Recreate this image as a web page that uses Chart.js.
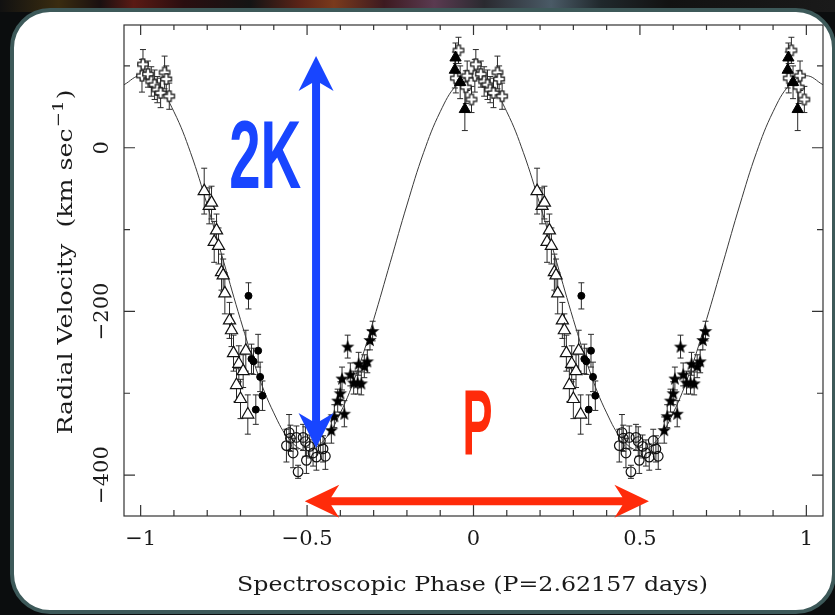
<!DOCTYPE html>
<html>
<head>
<meta charset="utf-8">
<title>Radial velocity curve</title>
<script src="https://cdn.jsdelivr.net/npm/chart.js@4.4.0/dist/chart.umd.min.js"></script>
<style>
html, body { margin: 0; padding: 0; }
body { width: 835px; height: 615px; background: #0b0d0e; position: relative; overflow: hidden; }
#strip { position: absolute; left: 0; top: 0; width: 835px; height: 12px;
  background: linear-gradient(90deg, #111 0%, #3a2c10 7%, #1a1010 12%, #5a1a14 16%, #2a0e10 22%, #141414 30%, #5c2418 36%, #7a3a1c 40%, #3d1a20 46%, #5a3a50 52%, #2a2a30 58%, #4a5a66 66%, #20282c 72%, #121212 80%, #1a1a1a 100%); }
#panel { position: absolute; left: 10px; top: 8px; width: 826px; height: 606px; box-sizing: border-box;
  border: 4px solid #3d5959; border-radius: 40px; background: #fff; }
#c { position: absolute; left: 0; top: 0; }
</style>
</head>
<body>
<div id="strip"></div>
<div id="panel"></div>
<canvas id="c" width="835" height="615"></canvas>
<script>
// observations, phase folded into [0,1) - each one is plotted at p-1 and p
var crossPhase = [0.004, 0.007, 0.022, 0.032, 0.042, 0.05, 0.06, 0.072, 0.077, 0.086, 0.947, 0.955, 0.977, 0.981, 0.994];
var crossVel   = [88, 102, 90, 81, 77, 71, 67, 92, 84, 63, 85, 119, 74, 88, 59];
var crossErr   = [20, 18, 16, 18, 18, 16, 18, 20, 16, 16, 18, 16, 20, 18, 16];

var ftriPhase = [0.944, 0.946, 0.96, 0.974];
var ftriVel   = [95, 110, 80, 47];
var ftriErr   = [22, 18, 20, 26];

var otriPhase = [0.191, 0.206, 0.213, 0.221, 0.228, 0.234, 0.243, 0.248, 0.253, 0.267, 0.273, 0.279, 0.288, 0.295, 0.300, 0.308, 0.316, 0.322];
var otriVel   = [-53, -71, -67, -115, -101, -120, -152, -156, -178, -211, -223, -251, -290, -264, -307, -273, -248, -326];
var otriErr   = [28, 22, 20, 25, 20, 22, 22, 20, 25, 22, 20, 22, 20, 22, 24, 20, 25, 24];

var fcircPhase = [0.324, 0.333, 0.339, 0.346, 0.353, 0.359, 0.366];
var fcircVel   = [-181, -258, -261, -320, -248, -280, -303];
var fcircErr   = [16, 18, 16, 18, 20, 18, 18];

var ocircPhase = [0.438, 0.446, 0.45, 0.458, 0.468, 0.473, 0.488, 0.495, 0.498, 0.508, 0.518, 0.528, 0.54, 0.548, 0.555];
var ocircVel   = [-364, -348, -355, -373, -354, -396, -354, -359, -382, -365, -373, -378, -358, -368, -377];
var ocircErr   = [20, 22, 16, 18, 14, 8, 16, 18, 16, 14, 16, 16, 14, 16, 16];

var starPhase = [0.573, 0.582, 0.592, 0.6, 0.605, 0.612, 0.622, 0.63, 0.64, 0.652, 0.655, 0.663, 0.672, 0.681, 0.689, 0.697];
var starVel   = [-345, -328, -309, -300, -282, -325, -243, -277, -287, -287, -264, -288, -267, -261, -235, -224];
var starErr   = [16, 14, 14, 14, 14, 16, 14, 14, 14, 14, 14, 14, 14, 14, 12, 12];

// orbit fit
var fitPhase = [-1.05, -1, -0.95, -0.9, -0.85, -0.8, -0.75, -0.7, -0.65, -0.6, -0.55, -0.5, -0.45, -0.4, -0.35, -0.3, -0.25, -0.2, -0.15, -0.1, -0.05,
                0, 0.05, 0.1, 0.15, 0.2, 0.25, 0.3, 0.35, 0.4, 0.45, 0.5, 0.55, 0.6, 0.65, 0.7, 0.75, 0.8, 0.85, 0.9, 0.95, 1, 1.05];
var fitVel   = [77, 88, 77, 44, -6, -70, -140, -210, -274, -324, -358, -370, -358, -324, -274, -210, -140, -70, -6, 44, 77,
                88, 77, 44, -6, -70, -140, -210, -274, -324, -358, -370, -358, -324, -274, -210, -140, -70, -6, 44, 77, 88, 77];

var xTickVals = [-1, -0.5, 0, 0.5, 1];
var xTickText = ['\u22121', '\u22120.5', '0', '0.5', '1'];
var yTickVals = [-400, -200, 0];
var yTickText = ['\u2212400', '\u2212200', '0'];
var xTitle = 'Spectroscopic Phase (P=2.62157 days)';
var yTitle = 'Radial Velocity  (km sec';
var yTitleSup = '\u22121';

// annotation marks (data coordinates)
var kArrow = { x: -0.473, top: 112, bottom: -367 };
var pArrow = { y: -432, from: -0.507, to: 0.527 };
var kLabel = { x: -0.626, y: -49, text: '2K' };
var pLabel = { x: 0.012, y: -375, text: 'P' };

function fold(ph, vel, err) {
    var out = [];
    for (var i = 0; i < ph.length; i++) {
        out.push({ x: ph[i] - 1, y: vel[i], e: err[i] });
        out.push({ x: ph[i], y: vel[i], e: err[i] });
    }
    return out;
}

function makeSymbol(size, fn) {
    var c = document.createElement('canvas');
    c.width = size; c.height = size;
    fn(c.getContext('2d'), size / 2);
    return c;
}

var plusImg = makeSymbol(14, function (g, m) {
    var a = 1.9, b = 5.2;
    g.beginPath();
    g.moveTo(m - a, m - b); g.lineTo(m + a, m - b); g.lineTo(m + a, m - a); g.lineTo(m + b, m - a);
    g.lineTo(m + b, m + a); g.lineTo(m + a, m + a); g.lineTo(m + a, m + b); g.lineTo(m - a, m + b);
    g.lineTo(m - a, m + a); g.lineTo(m - b, m + a); g.lineTo(m - b, m - a); g.lineTo(m - a, m - a);
    g.closePath();
    g.fillStyle = '#fff'; g.fill();
    g.lineWidth = 1.2; g.strokeStyle = '#111'; g.stroke();
});

var starImg = makeSymbol(16, function (g, m) {
    g.beginPath();
    for (var k = 0; k < 10; k++) {
        var r = k % 2 ? 2.9 : 7;
        var ang = -Math.PI / 2 + k * Math.PI / 5;
        g.lineTo(m + r * Math.cos(ang), m + 0.5 + r * Math.sin(ang));
    }
    g.closePath();
    g.fillStyle = '#000'; g.fill();
});

var errorBars = {
    id: 'errorBars',
    beforeDatasetsDraw: function (chart) {
        var ctx = chart.ctx, ys = chart.scales.y, a = chart.chartArea;
        ctx.save();
        ctx.beginPath();
        ctx.rect(a.left, a.top, a.right - a.left, a.bottom - a.top);
        ctx.clip();
        ctx.strokeStyle = '#2a2a2a';
        ctx.lineWidth = 1;
        chart.data.datasets.forEach(function (ds, i) {
            if (!ds.errorBars) return;
            var meta = chart.getDatasetMeta(i);
            meta.data.forEach(function (pt, j) {
                var d = ds.data[j];
                var t = ys.getPixelForValue(d.y + d.e), b = ys.getPixelForValue(d.y - d.e);
                ctx.beginPath();
                ctx.moveTo(pt.x, t); ctx.lineTo(pt.x, b);
                ctx.moveTo(pt.x - 3, t); ctx.lineTo(pt.x + 3, t);
                ctx.moveTo(pt.x - 3, b); ctx.lineTo(pt.x + 3, b);
                ctx.stroke();
            });
        });
        ctx.restore();
    }
};

function doubleArrow(ctx, x1, y1, x2, y2, color, hl, hh) {
    var dx = x2 - x1, dy = y2 - y1, len = Math.sqrt(dx * dx + dy * dy);
    var hw = 4, notch = 8;
    ctx.save();
    ctx.translate(x1, y1);
    ctx.rotate(Math.atan2(dy, dx));
    ctx.beginPath();
    ctx.moveTo(0, 0);
    ctx.lineTo(hl, -hh); ctx.lineTo(hl - notch, -hw);
    ctx.lineTo(len - hl + notch, -hw); ctx.lineTo(len - hl, -hh);
    ctx.lineTo(len, 0);
    ctx.lineTo(len - hl, hh); ctx.lineTo(len - hl + notch, hw);
    ctx.lineTo(hl - notch, hw); ctx.lineTo(hl, hh);
    ctx.closePath();
    ctx.fillStyle = color;
    ctx.fill();
    ctx.restore();
}

function bigLabel(ctx, text, cx, base, width, size, color) {
    ctx.save();
    ctx.font = 'bold ' + size + 'px "Liberation Sans Narrow", "Liberation Sans", "DejaVu Sans Condensed", sans-serif';
    var w = ctx.measureText(text).width;
    ctx.translate(cx - width / 2, base);
    ctx.scale(width / w, 1);
    ctx.fillStyle = color;
    ctx.textAlign = 'left';
    ctx.textBaseline = 'alphabetic';
    ctx.fillText(text, 0, 0);
    ctx.restore();
}

var frameAxes = {
    id: 'frameAxes',
    afterDraw: function (chart) {
        var ctx = chart.ctx, xs = chart.scales.x, ys = chart.scales.y, a = chart.chartArea;
        ctx.save();
        ctx.strokeStyle = '#333';
        ctx.lineWidth = 1.2;
        ctx.strokeRect(a.left, a.top, a.right - a.left, a.bottom - a.top);

        // inward ticks, all four sides
        ctx.beginPath();
        for (var i = -10; i <= 10; i++) {
            var px = xs.getPixelForValue(i / 10);
            var big = i % 5 === 0;
            ctx.moveTo(px, a.bottom); ctx.lineTo(px, a.bottom - (big ? 11 : 6));
            ctx.moveTo(px, a.top); ctx.lineTo(px, a.top + (big ? 10 : 5));
        }
        for (var v = -400; v <= 100; v += 100) {
            var py = ys.getPixelForValue(v);
            var bigy = v % 200 === 0;
            ctx.moveTo(a.left, py); ctx.lineTo(a.left + (bigy ? 11 : 6), py);
            ctx.moveTo(a.right, py); ctx.lineTo(a.right - (bigy ? 11 : 6), py);
        }
        ctx.stroke();

        ctx.fillStyle = '#1a1a1a';
        ctx.font = '21px "DejaVu Serif", serif';
        ctx.textBaseline = 'alphabetic';
        ctx.textAlign = 'center';
        xTickVals.forEach(function (val, k) {
            ctx.fillText(xTickText[k], xs.getPixelForValue(val), a.bottom + 29);
        });
        yTickVals.forEach(function (val, k) {
            ctx.save();
            ctx.translate(a.left - 16, ys.getPixelForValue(val));
            ctx.rotate(-Math.PI / 2);
            ctx.fillText(yTickText[k], 0, 0);
            ctx.restore();
        });

        // x title
        ctx.save();
        ctx.font = '21px "DejaVu Serif", serif';
        var tw = ctx.measureText(xTitle).width;
        ctx.translate(472.5, a.bottom + 75);
        ctx.scale(471 / tw, 1);
        ctx.textAlign = 'center';
        ctx.fillText(xTitle, 0, 0);
        ctx.restore();

        // y title with superscript
        ctx.save();
        ctx.font = '21px "DejaVu Serif", serif';
        var w1 = ctx.measureText(yTitle).width;
        var w3 = ctx.measureText(')').width;
        ctx.font = '15px "DejaVu Serif", serif';
        var w2 = ctx.measureText(yTitleSup).width + 2;
        var tot = w1 + w2 + w3;
        ctx.translate(a.left - 52, 262);
        ctx.rotate(-Math.PI / 2);
        ctx.scale(345 / tot, 1);
        ctx.textAlign = 'left';
        var x0 = -tot / 2;
        ctx.font = '21px "DejaVu Serif", serif';
        ctx.fillText(yTitle, x0, 0);
        ctx.font = '15px "DejaVu Serif", serif';
        ctx.fillText(yTitleSup, x0 + w1 + 1, -9);
        ctx.font = '21px "DejaVu Serif", serif';
        ctx.fillText(')', x0 + w1 + w2, 0);
        ctx.restore();

        // annotations on top
        doubleArrow(ctx, xs.getPixelForValue(kArrow.x), ys.getPixelForValue(kArrow.top),
            xs.getPixelForValue(kArrow.x), ys.getPixelForValue(kArrow.bottom), '#1845ff', 35, 17.5);
        doubleArrow(ctx, xs.getPixelForValue(pArrow.from), ys.getPixelForValue(pArrow.y),
            xs.getPixelForValue(pArrow.to), ys.getPixelForValue(pArrow.y), '#ff2b0a', 34.5, 16.5);
        bigLabel(ctx, kLabel.text, xs.getPixelForValue(kLabel.x), ys.getPixelForValue(kLabel.y), 72, 96, '#1845ff');
        bigLabel(ctx, pLabel.text, xs.getPixelForValue(pLabel.x), ys.getPixelForValue(pLabel.y), 30, 92, '#ff2b0a');
        ctx.restore();
    }
};

var fitData = fitPhase.map(function (p, i) { return { x: p, y: fitVel[i] }; });

var ctx = document.getElementById('c').getContext('2d');
var chart = new Chart(ctx, {
    type: 'scatter',
    data: {
        datasets: [
            { label: 'fit', data: fitData, showLine: true, borderColor: '#3a3a3a', borderWidth: 1,
              pointRadius: 0, tension: 0.4, order: 10 },
            { label: 'crosses', data: fold(crossPhase, crossVel, crossErr), errorBars: true,
              pointStyle: plusImg, pointRadius: 5, order: 1 },
            { label: 'filled triangles', data: fold(ftriPhase, ftriVel, ftriErr), errorBars: true,
              pointStyle: 'triangle', pointRadius: 6.5, pointBackgroundColor: '#000', pointBorderColor: '#000',
              pointBorderWidth: 1, order: 0 },
            { label: 'open triangles', data: fold(otriPhase, otriVel, otriErr), errorBars: true,
              pointStyle: 'triangle', pointRadius: 7, pointBackgroundColor: '#fff', pointBorderColor: '#111',
              pointBorderWidth: 1.2, order: 2 },
            { label: 'filled circles', data: fold(fcircPhase, fcircVel, fcircErr), errorBars: true,
              pointStyle: 'circle', pointRadius: 3.5, pointBackgroundColor: '#000', pointBorderColor: '#000',
              pointBorderWidth: 1, order: 1 },
            { label: 'open circles', data: fold(ocircPhase, ocircVel, ocircErr), errorBars: true,
              pointStyle: 'circle', pointRadius: 4.8, pointBackgroundColor: 'rgba(255,255,255,0)',
              pointBorderColor: '#111', pointBorderWidth: 1.2, order: 2 },
            { label: 'stars', data: fold(starPhase, starVel, starErr), errorBars: true,
              pointStyle: starImg, pointRadius: 5, order: 1 }
        ]
    },
    options: {
        responsive: false,
        animation: false,
        devicePixelRatio: 1,
        events: [],
        layout: { padding: { top: 25, right: 12, left: 0, bottom: 0 }, autoPadding: false },
        plugins: { legend: { display: false }, tooltip: { enabled: false } },
        scales: {
            x: { type: 'linear', min: -1.05, max: 1.05, ticks: { display: false }, grid: { display: false },
                 border: { display: false }, afterFit: function (s) { s.height = 99; } },
            y: { type: 'linear', min: -450, max: 150, ticks: { display: false }, grid: { display: false },
                 border: { display: false }, afterFit: function (s) { s.width = 124; } }
        }
    },
    plugins: [errorBars, frameAxes]
});
console.log(chart.chartArea);
</script>
</body>
</html>
